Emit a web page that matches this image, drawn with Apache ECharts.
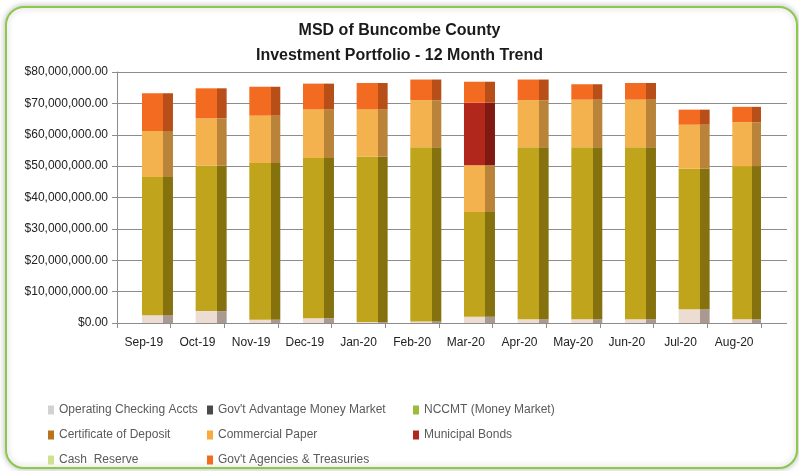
<!DOCTYPE html>
<html>
<head>
<meta charset="utf-8">
<script src="https://cdn.jsdelivr.net/npm/echarts@6/dist/echarts.min.js"></script>
<style>
  html, body { margin: 0; padding: 0; background: #fff; }
  #main { width: 799px; height: 471px; }
</style>
</head>
<body>
<div id="main"></div>
<script>
// 12 month trend, values in millions of dollars
var months = ['Sep-19', 'Oct-19', 'Nov-19', 'Dec-19', 'Jan-20', 'Feb-20', 'Mar-20', 'Apr-20', 'May-20', 'Jun-20', 'Jul-20', 'Aug-20'];
var operating = [2.5, 3.8, 1.0, 1.5, 0.3, 0.5, 2.0, 1.2, 1.2, 1.2, 4.4, 1.2];
var govAdvantage = [0, 0, 0, 0, 0, 0, 0, 0, 0, 0, 0, 0];
var nccmt = [44.0, 46.4, 50.0, 51.1, 52.8, 55.5, 33.4, 54.8, 54.8, 54.8, 44.8, 48.8];
var certDeposit = [0, 0, 0, 0, 0, 0, 0, 0, 0, 0, 0, 0];
var commPaper = [14.7, 15.0, 15.1, 15.5, 15.0, 15.0, 14.9, 15.0, 15.2, 15.2, 14.0, 14.0];
var muniBonds = [0, 0, 0, 0, 0, 0, 19.9, 0, 0, 0, 0, 0];
var cashReserve = [0, 0, 0, 0, 0, 0, 0, 0, 0, 0, 0, 0];
var agencies = [12.0, 9.6, 9.2, 8.2, 8.4, 6.6, 6.7, 6.6, 4.9, 5.3, 4.8, 4.9];
var yTicks = [0, 10, 20, 30, 40, 50, 60, 70, 80];

var font = "'Liberation Sans', Arial, sans-serif";

// front face + darker side face, fake 3d column
function face(front, side) {
    return new echarts.graphic.LinearGradient(0, 0, 1, 0, [
        { offset: 0, color: front },
        { offset: 0.69, color: front },
        { offset: 0.69, color: side },
        { offset: 1, color: side }
    ]);
}

function money(v) {
    return '$' + (v * 1000000).toLocaleString('en-US', { minimumFractionDigits: 2, maximumFractionDigits: 2 });
}

var stacks = [
    { name: 'Operating Checking Accts', data: operating, front: '#ecdcd2', side: '#aa9990', legend: '#d4d2d0' },
    { name: "Gov't Advantage Money Market", data: govAdvantage, front: '#4a4a4a', side: '#2e2e2e', legend: '#4a4a4a' },
    { name: 'NCCMT (Money Market)', data: nccmt, front: '#c0a51c', side: '#85720f', legend: '#9bbb3b' },
    { name: 'Certificate of Deposit', data: certDeposit, front: '#b8741a', side: '#7f5012', legend: '#b8741a' },
    { name: 'Commercial Paper', data: commPaper, front: '#f4b24e', side: '#b9843a', legend: '#f7ab3c' },
    { name: 'Municipal Bonds', data: muniBonds, front: '#b2271b', side: '#7e1a12', legend: '#b2271b' },
    { name: 'Cash  Reserve', data: cashReserve, front: '#cfe08e', side: '#95a266', legend: '#cfe08e' },
    { name: "Gov't Agencies & Treasuries", data: agencies, front: '#f36b21', side: '#b84f18', legend: '#f36b21' }
];

var series = [{
    // empty spacer so the columns sit right of the category centre like the original
    name: 'pad',
    type: 'bar',
    stack: 'pad',
    xAxisIndex: 1,
    yAxisIndex: 1,
    barWidth: 31,
    barGap: '-12%',
    silent: true,
    data: months.map(function () { return 0; })
}];
stacks.forEach(function (s) {
    series.push({
        name: s.name,
        type: 'bar',
        stack: 'total',
        xAxisIndex: 1,
        yAxisIndex: 1,
        barWidth: 31,
        barGap: '-12%',
        itemStyle: { color: face(s.front, s.side) },
        data: s.data
    });
});

function legendCol(left, names) {
    return {
        orient: 'vertical',
        left: left,
        top: 403,
        padding: 0,
        itemWidth: 6,
        itemHeight: 9,
        itemGap: 11,
        icon: 'rect',
        selectedMode: false,
        textStyle: { fontFamily: font, fontSize: 12, lineHeight: 14, color: '#5a5a5a' },
        data: names.map(function (n) {
            var s = stacks.filter(function (x) { return x.name === n; })[0];
            return { name: n, itemStyle: { color: s.legend } };
        })
    };
}

var myChart = echarts.init(document.getElementById('main'));

var option = {
    backgroundColor: '#fff',
    animation: false,
    title: {
        left: 'center',
        top: 13,
        text: 'MSD of Buncombe County\nInvestment Portfolio - 12 Month Trend',
        textStyle: { fontFamily: font, fontSize: 16, fontWeight: 'bold', color: '#1a1a1a', lineHeight: 25 }
    },
    graphic: [{
        type: 'rect',
        z: -10,
        shape: { x: 6, y: 7, width: 791, height: 461, r: 18 },
        style: { fill: '#fff', stroke: '#8cc84a', lineWidth: 2, shadowBlur: 6, shadowColor: 'rgba(0,0,0,0.25)' }
    }],
    legend: [
        legendCol(48, ['Operating Checking Accts', 'Certificate of Deposit', 'Cash  Reserve']),
        legendCol(207, ["Gov't Advantage Money Market", 'Commercial Paper', "Gov't Agencies & Treasuries"]),
        legendCol(413, ['NCCMT (Money Market)', 'Municipal Bonds'])
    ],
    grid: [
        // gridlines run a little past the last column (depth of the 3d floor)
        { left: 117, right: 12, top: 72, bottom: 148 },
        { left: 117, right: 38, top: 72, bottom: 148 }
    ],
    xAxis: [{
        gridIndex: 0,
        type: 'category',
        data: [''],
        show: false
    }, {
        gridIndex: 1,
        type: 'category',
        data: months,
        axisLine: { show: false },
        axisTick: { show: true, length: 5, lineStyle: { color: '#8c8c8c' } },
        axisLabel: { fontFamily: font, fontSize: 12, color: '#222', margin: 14 }
    }],
    yAxis: [{
        gridIndex: 0,
        type: 'value',
        min: 0,
        max: 80,
        interval: 10,
        axisLine: { show: false },
        axisTick: { show: false },
        axisLabel: { show: false },
        splitLine: { show: true, lineStyle: { color: '#8c8c8c', width: 1 } }
    }, {
        gridIndex: 1,
        type: 'value',
        min: yTicks[0],
        max: yTicks[yTicks.length - 1],
        interval: 10,
        axisLine: { show: true, lineStyle: { color: '#8c8c8c' } },
        axisTick: { show: true, length: 5, lineStyle: { color: '#8c8c8c' } },
        splitLine: { show: false },
        axisLabel: { fontFamily: font, fontSize: 12, color: '#222', margin: 9, formatter: money }
    }],
    series: series
};

myChart.setOption(option);
</script>
</body>
</html>
